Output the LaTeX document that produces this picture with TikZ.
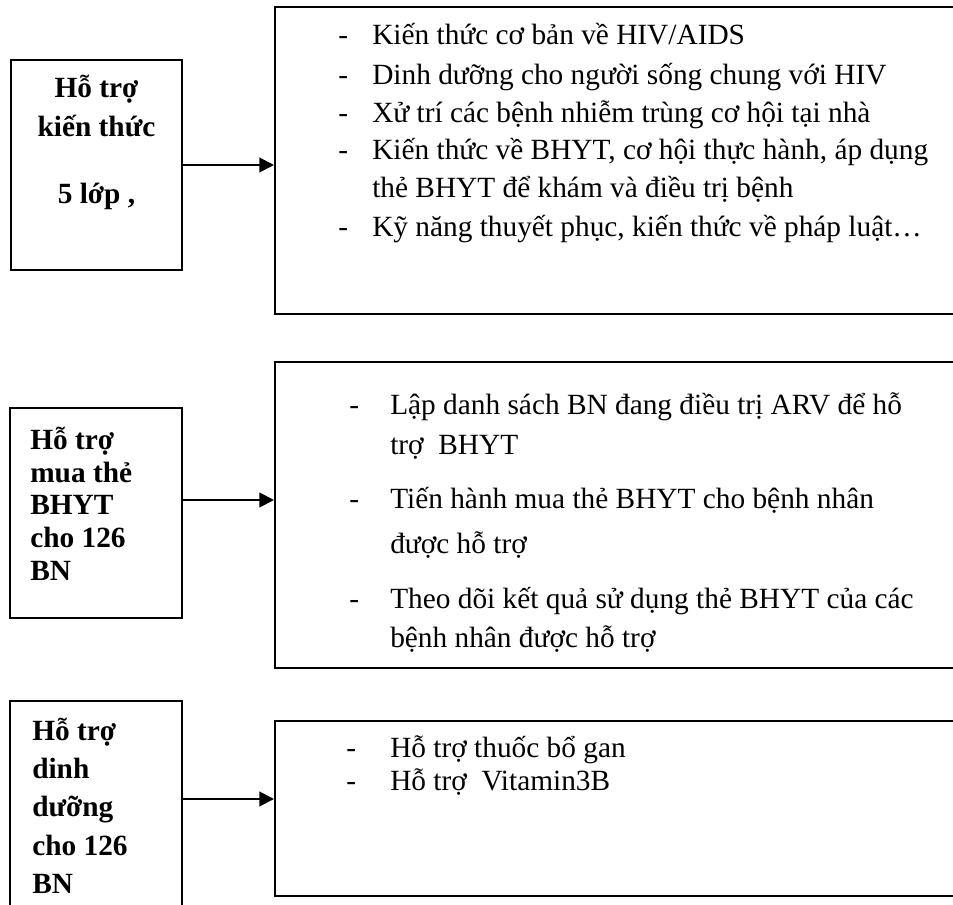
\documentclass[tikz,border=0pt]{standalone}
\usepackage{fontspec}
\setmainfont{Liberation Serif}
\usepackage{tikz}
\usetikzlibrary{arrows.meta,positioning,fit}
\tikzset{
  box/.style={draw=black, line width=1.5pt, inner sep=0pt},
  txt/.style={anchor=base west, inner sep=0pt, font=\fontsize{22}{26}\selectfont},
  hd/.style={txt, font=\fontsize{22}{26}\selectfont\bfseries},
  hdc/.style={hd, anchor=base},
  bul/.style={txt},
  arr/.style={-{Triangle[length=11pt,width=11pt]}, line width=1.5pt},
}

\begin{document}
\begin{tikzpicture}[x=0.75pt,y=-0.75pt]
        \useasboundingbox (0,0) rectangle (953,905);
        \clip (0,0) rectangle (953,905);
        % boxes
        \node[box, fit={(11,60) (182,270)}] (kt) {};
        \node[box, fit={(10,408) (182,618)}] (bh) {};
        \node[box, fit={(10,701) (182,940)}] (dd) {};
        \node[box, fit={(275,7) (990,314)}] (ktN) {};
        \node[box, fit={(275,362) (990,668)}] (bhN) {};
        \node[box, fit={(275,721) (990,896)}] (ddN) {};
        % left titles
        \node[hdc] (kt1) at (96.5,98) {Hỗ trợ};
        \node[hdc] (kt2) at (96.5,137) {kiến thức};
        \node[hdc] (kt3) at (96.5,204) {5 lớp ,};
        \foreach \y/\t [count=\k] in {450/{Hỗ trợ}, 482/{mua thẻ}, 514/{BHYT}, 547/{cho 126}, 580/{BN}} {
            \node[hd] (bh\k) at (30,\y) {\t};
        }
        \foreach \y/\t [count=\k] in {740/{Hỗ trợ}, 778/{dinh}, 816/{dưỡng}, 855/{cho 126}, 893/{BN}} {
            \node[hd] (dd\k) at (32,\y) {\t};
        }
        % panel 1 items
        \foreach \y/\t [count=\k] in {45/{Kiến thức cơ bản về HIV/AIDS}, 85/{Dinh dưỡng cho người sống chung với HIV}, 123/{Xử trí các bệnh nhiễm trùng cơ hội tại nhà}, 160/{Kiến thức về BHYT, cơ hội thực hành, áp dụng}, 198/{thẻ BHYT để khám và điều trị bệnh}, 237/{Kỹ năng thuyết phục, kiến thức về pháp luật…}} {
            \node[txt] (ka\k) at (372,\y) {\t};
        }
        \foreach \y [count=\k] in {45,85,123,160,237} {
            \node[bul] (kd\k) at (338,\y) {-};
        }
        % panel 2 items
        \foreach \y/\t [count=\k] in {415/{Lập danh sách BN đang điều trị ARV để hỗ}, 455/{trợ ~BHYT}, 508/{Tiến hành mua thẻ BHYT cho bệnh nhân}, 553/{được hỗ trợ}, 608/{Theo dõi kết quả sử dụng thẻ BHYT của các}, 647/{bệnh nhân được hỗ trợ}} {
            \node[txt] (ba\k) at (390,\y) {\t};
        }
        \foreach \y [count=\k] in {415,508,608} {
            \node[bul] (bd\k) at (349,\y) {-};
        }
        % panel 3 items
        \node[txt] (da1) at (390,757) {Hỗ trợ thuốc bổ gan};
        \node[txt] (da2) at (390,790) {Hỗ trợ ~Vitamin3B};
        \node[bul] (dm1) at (346,757) {-};
        \node[bul] (dm2) at (346,790) {-};
        % arrows
        \draw[arr] (kt.east) -- (kt.east -| ktN.west);
        \draw[arr] (bh.east |- 0,500) -- (bhN.west |- 0,500);
        \draw[arr] (dd.east |- 0,799) -- (ddN.west |- 0,799);
\end{tikzpicture}
\end{document}
